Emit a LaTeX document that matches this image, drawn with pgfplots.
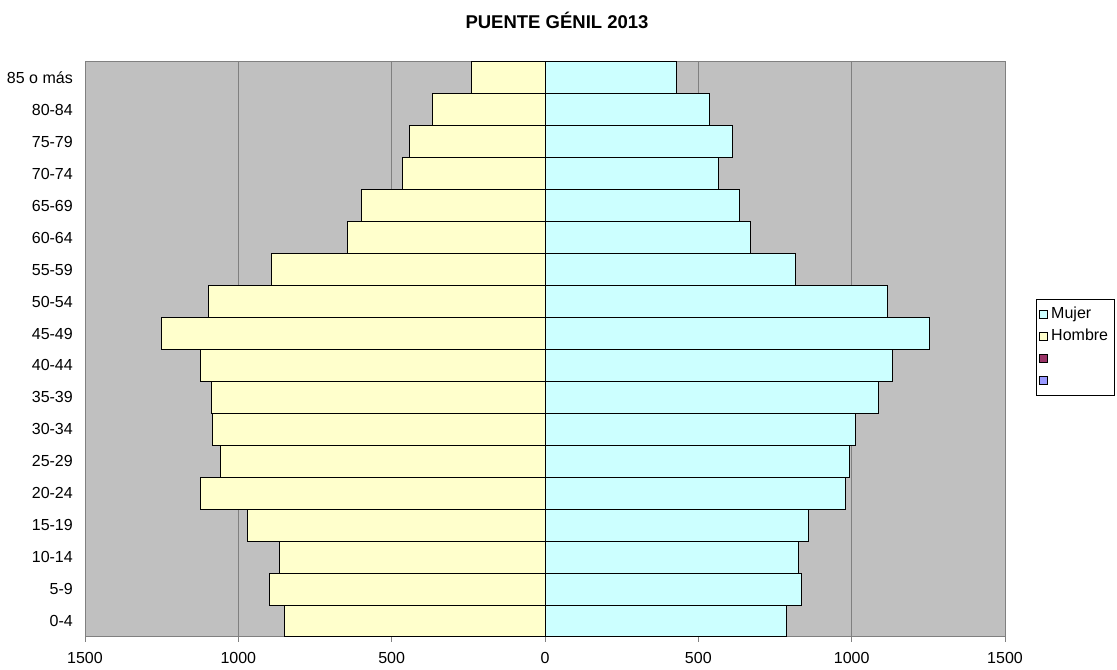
\documentclass[border=0pt]{standalone}
\usepackage{fontspec}
\setmainfont{Liberation Sans}
\usepackage{pgfplots}
\pgfplotsset{compat=1.18}
\definecolor{bgray}{HTML}{C0C0C0}
\definecolor{gline}{HTML}{808080}
\definecolor{mujer}{HTML}{CCFFFF}
\definecolor{hombre}{HTML}{FFFFCC}
\definecolor{sthree}{HTML}{993366}
\definecolor{sfour}{HTML}{9999FF}
\pgfplotsset{sq legend/.style={legend image code/.code={\draw[##1, draw=black, line width=0.8bp] (0bp,-4bp) rectangle (8bp,4bp);}}}
\begin{document}
\begin{tikzpicture}[x=1bp,y=1bp]
\path[use as bounding box] (0,0) rectangle (1117,670);
\node[font=\fontsize{18.5bp}{22bp}\selectfont\bfseries] at (557,650) {PUENTE GÉNIL 2013};
\begin{axis}[
 at={(85bp,33bp)}, anchor=south west,
 width=920bp, height=575bp, scale only axis,
 xbar, bar shift=0pt, bar width=1,
 xmin=-1500, xmax=1500, ymin=-0.5, ymax=17.5,
 xtick={-1500,-1000,-500,0,500,1000,1500},
 xticklabels={1500,1000,500,0,500,1000,1500},
 ytick={0,...,17},
 yticklabels={0-4,5-9,10-14,15-19,20-24,25-29,30-34,35-39,40-44,45-49,50-54,55-59,60-64,65-69,70-74,75-79,80-84,85 o más},
 axis background/.style={fill=bgray},
 axis line style={gline, line width=1bp},
 xmajorgrids, grid style={gline, line width=1bp},
 tick align=outside,
 x tick style={gline, line width=1bp},
 xtick pos=bottom,
 major tick length=5bp,
 y tick style={draw=none},
 ytick pos=left,
 tick label style={font=\fontsize{16bp}{19bp}\selectfont, inner sep=0pt},
 xticklabel style={anchor=north, yshift=-10bp},
 yticklabel style={anchor=east, xshift=-7bp},
 sq legend,
 legend style={at={(1.0337,0.588)}, anchor=north west, draw=black, fill=white,
   line width=0.8bp, font=\fontsize{16bp}{19bp}\selectfont,
   inner xsep=3bp, inner ysep=4bp, row sep=0pt,
   nodes={inner xsep=3bp, inner ysep=3bp, text height=12bp, text depth=4bp}},
 legend cell align=left,
]
\addplot[sq legend, fill=mujer, draw=black, line width=1bp] coordinates {
(789,0) (836,1) (825,2) (860,3) (980,4) (994,5) (1013,6) (1089,7) (1134,8)
(1255,9) (1116,10) (816,11) (670,12) (634,13) (565,14) (613,15) (538,16) (430,17)};
\addlegendentry{Mujer}
\addplot[sq legend, fill=hombre, draw=black, line width=1bp] coordinates {
(-849,0) (-898,1) (-866,2) (-970,3) (-1125,4) (-1059,5) (-1083,6) (-1089,7) (-1125,8)
(-1252,9) (-1096,10) (-891,11) (-644,12) (-597,13) (-464,14) (-443,15) (-366,16) (-241,17)};
\addlegendentry{Hombre}
\addlegendimage{sq legend, fill=sthree}
\addlegendentry{\mbox{}}
\addlegendimage{sq legend, fill=sfour}
\addlegendentry{\mbox{}}
\end{axis}
\end{tikzpicture}
\end{document}
